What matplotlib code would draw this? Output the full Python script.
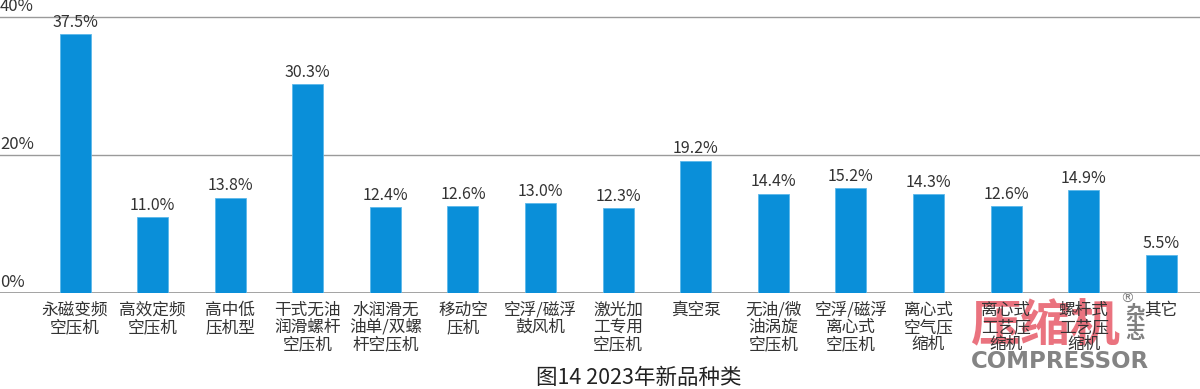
import matplotlib
matplotlib.use('Agg')
import numpy as np
import matplotlib.pyplot as plt

plt.rcParams['font.family'] = ['Noto Sans CJK SC', 'DejaVu Sans']

categories = [
	'永磁变频\n空压机', '高效定频\n空压机', '高中低\n压机型', '干式无油\n润滑螺杆\n空压机',
	'水润滑无\n油单/双螺\n杆空压机', '移动空\n压机', '空浮/磁浮\n鼓风机', '激光加\n工专用\n空压机',
	'真空泵', '无油/微\n油涡旋\n空压机', '空浮/磁浮\n离心式\n空压机', '离心式\n空气压\n缩机',
	'离心式\n工艺压\n缩机', '螺杆式\n工艺压\n缩机', '其它']
shares = [37.5, 11.0, 13.8, 30.3, 12.4, 12.6, 13.0, 12.3, 19.2, 14.4, 15.2, 14.3, 12.6, 14.9, 5.5]
y_ticks = [0, 20, 40]
title = '图14 2023年新品种类'

bar_color = '#0a8fd9'
text_color = '#333333'

figure = plt.figure(figsize=(12, 3.89), dpi=100)
axis = figure.add_axes([0, 0.247, 1, 0.753])

positions = np.arange(len(shares))
axis.bar(positions, shares, width=0.40, color=bar_color, edgecolor='#5cb8ea', linewidth=0.6, zorder=3)
for position, value in zip(positions, shares):
	axis.text(position, value + 0.5, f'{value:.1f}%', ha='center', va='bottom',
	          fontsize=11.5, color=text_color, zorder=4)
	axis.text(position, -1.3, categories[position], ha='center', va='top',
	          fontsize=12, color=text_color, linespacing=1.0)

for tick in y_ticks:
	axis.axhline(tick, color='#9a9a9a', linewidth=2 if tick == 0 else 1, zorder=1)
	axis.text(-0.967, tick + 0.35, f'{tick}%', ha='left', va='bottom', fontsize=12, color=text_color)

axis.set_xlim(-0.967, 14.50)
axis.set_ylim(0, 42.5)
axis.axis('off')

figure.text(0.532, 0.0, title, ha='center', va='bottom', fontsize=15.5, color='#222222')

# magazine watermark, drawn under the axes texts
figure.text(0.871, 0.095, '压缩机', ha='center', va='bottom', fontsize=36, fontweight='bold',
            color='#e5505f', alpha=0.8, zorder=-1)
figure.text(0.883, 0.04, 'COMPRESSOR', ha='center', va='bottom', fontsize=16.5, fontweight='bold',
            color='#6e6e6e', alpha=0.85, family=['DejaVu Sans'], zorder=-1)
figure.text(0.946, 0.12, '杂\n志', ha='center', va='bottom', fontsize=14, fontweight='bold',
            color='#808080', linespacing=0.95, zorder=-1)
figure.text(0.939, 0.215, '®', ha='center', va='bottom', fontsize=10, color='#808080',
            family=['DejaVu Sans'], zorder=-1)

figure.savefig('out.png', dpi=100)
